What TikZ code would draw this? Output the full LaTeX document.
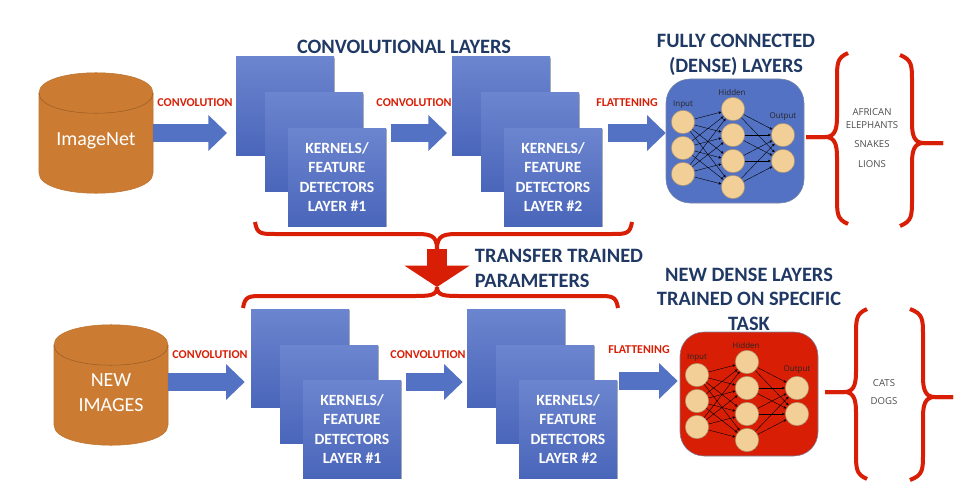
\documentclass[tikz,border=0pt]{standalone}
\usepackage{fontspec}
\setmainfont{Carlito}
\newfontfamily\smallfont{Open Sans}
\usetikzlibrary{calc, positioning}
\usetikzlibrary{arrows.meta}
\usetikzlibrary{shadows}
\definecolor{navy}{HTML}{1F3864}
\definecolor{alarm}{HTML}{D81E05}
\definecolor{denseblue}{HTML}{5472C4}
\definecolor{stacktop}{HTML}{6C85CF}
\definecolor{stackbot}{HTML}{4A66BA}
\definecolor{peach}{HTML}{F3CF98}
\definecolor{barrel}{HTML}{CC7C32}
\def\lw{13pt}
\tikzset{
    layer/.style = {
        minimum width=73.5pt, minimum height=73.5pt, inner sep=0pt, align=center,
        top color=stacktop, bottom color=stackbot, text=white,
        font=\fontsize{11.7}{14.6}\selectfont\bfseries,
        drop shadow={shadow xshift=1pt, shadow yshift=-1pt, opacity=.3, fill=black}
    },
    barreltext/.style = {
        text=white, inner sep=0pt, align=center, font=\fontsize{15}{18.75}\selectfont
    },
    neuron/.style = {
        draw=peach!70!black, fill=peach, circle, minimum width=17.5pt, inner sep=0pt
    },
    netlabel/.style = {
        text=black!85, inner sep=0pt, font=\smallfont\fontsize{6}{7}\selectfont
    },
    link/.style = {
        -{Latex[length=2pt,width=2pt]}, black, line width=.3pt
    },
    stepname/.style = {
        text=alarm, inner sep=0pt, font=\fontsize{9}{9}\selectfont\bfseries
    },
    heading/.style = {
        text=navy, inner sep=0pt, align=center,
        font=\fontsize{15.3}{18.4}\selectfont\bfseries
    },
    classname/.style = {
        text=black!70, inner sep=0pt, align=center,
        font=\smallfont\fontsize{7.2}{9.8}\selectfont
    },
    bigarrow/.style = {
        line width = \lw, draw=denseblue, >={Triangle[width=26pt,length=14pt]}, ->
    },
    bracket/.style = {
        draw=alarm, line width=3pt
    },
    pics/Barrel/.style={
        code = {
            \filldraw [fill=barrel, draw=barrel!92!black] (-57, -40) .. controls (-57, -67) and (57, -67) .. (57, -40)
                -- (57, 40) .. controls (57, 67) and (-57, 67) .. (-57, 40) -- cycle;
            \draw [barrel!75!black] (-57, -40) .. controls (-57, -13) and (57, -13) .. (57, -40);
            \node [barreltext] (-edge) at (0, 8) {#1};
            \coordinate (-east) at (57, 0);
    }},
    pics/Stack/.style={
        code = {
            \node [layer] (-back) at (49, 49) {};
            \node [layer] (-mid) at (78, 85) {};
            \node [layer] (-front) at (101, 120) {KERNELS/\\FEATURE\\DETECTORS\\LAYER \##1};
    }},
    pics/Dense/.style={
        code = {
            \node [draw=navy!60, fill=#1, rounded corners=18pt, minimum width=103.5pt, minimum height=93pt, inner sep=0pt] (-box) at (69, 62) {};
            \foreach \i/\yy in {1/43, 2/69, 3/95}
                \node [neuron] (-in\i) at (17, \yy) {};
            \foreach \i/\yy in {1/30, 2/56, 3/82, 4/108}
                \node [neuron] (-hid\i) at (67, \yy) {};
            \foreach \i/\yy in {1/56, 2/82}
                \node [neuron] (-out\i) at (117, \yy) {};
            \node [netlabel] (-lin) at (17, 26) {Input};
            \node [netlabel] (-lhid) at (66, 13) {Hidden};
            \node [netlabel] (-lout) at (117, 38) {Output};
            \foreach \i in {1,2,3}
                \foreach \j in {1,2,3,4}
                    \draw [link] (-in\i) -- (-hid\j);
            \foreach \j in {1,2,3,4}
                \foreach \k in {1,2}
                    \draw [link] (-hid\j) -- (-out\k);
    }}
}
\begin{document}
\begin{tikzpicture}[x=.75pt, y=-.75pt]
    \useasboundingbox (0, 0) rectangle (960, 503);
    \draw (96, 133) pic (db1) {Barrel={ImageNet}};
    \draw (111, 385) pic (db2) {Barrel={NEW\\IMAGES}};
    \draw (236, 57) pic (s1) {Stack={1}};
    \draw (452, 57) pic (s2) {Stack={2}};
    \draw (251, 309) pic (s3) {Stack={1}};
    \draw (467, 309) pic (s4) {Stack={2}};
    \draw (666, 79) pic (d1) {Dense={denseblue}};
    \draw (680, 332) pic (d2) {Dense={alarm}};
    \begin{scope}[bigarrow]
        \draw [shorten >=6.5pt] (db1-east |- 0, 133) -- (s1-back.west |- 0, 133);
        \draw [shorten <=3.5pt, shorten >=3.5pt] (s1-front.east |- 0, 133) -- (s2-back.west |- 0, 133);
        \draw [shorten <=4.5pt] (s2-front.east |- 0, 133) -- (d1-box.west |- 0, 133);
        \draw [shorten >=4.5pt] (db2-east |- 0, 382) -- (s3-back.west |- 0, 382);
        \draw [shorten <=3.5pt, shorten >=3pt] (s3-front.east |- 0, 382) -- (s4-back.west |- 0, 382);
        \draw [shorten <=1.5pt, shorten >=1.5pt] (s4-front.east |- 0, 381) -- (d2-box.west |- 0, 381);
    \end{scope}
    \node [stepname] (c1) at (195, 103) {CONVOLUTION};
    \node [stepname] (c2) at (414, 103) {CONVOLUTION};
    \node [stepname] (f1) at (627, 103) {FLATTENING};
    \node [stepname] (c3) at (210, 355) {CONVOLUTION};
    \node [stepname] (c4) at (428, 355) {CONVOLUTION};
    \node [stepname] (f2) at (639, 350) {FLATTENING};
    \node [heading] (h1) at (404, 47) {CONVOLUTIONAL LAYERS};
    \node [heading] (h2) at (736, 55) {FULLY CONNECTED\\(DENSE) LAYERS};
    \node [heading] (h3) at (749, 299) {NEW DENSE LAYERS\\TRAINED ON SPECIFIC\\TASK};
    \node [heading, align=left] (h4) at (559, 268.5) {TRANSFER TRAINED\\PARAMETERS};
    \node [classname] (k1) at (872, 138) {AFRICAN\\ELEPHANTS\\[5pt]SNAKES\\[5pt]LIONS};
    \node [classname] (k2) at (884, 392) {CATS\\[4pt]DOGS};
    \foreach \sx/\ex/\yt/\yb/\yc/\tx/\d in {837/848/53/224/137/806/1, 856/867/309/479/392/825/1, 912/900/55/226/143/943/-1, 923/910/309/480/397/953/-1}
        \foreach \ye/\s in {\yt/1, \yb/-1}
            \draw [bracket] (\ex, \ye) .. controls (\sx, \ye+5*\s) and (\sx, \ye+10*\s) .. (\sx, \ye+27*\s)
                -- (\sx, \yc-20*\s) .. controls (\sx, \yc-6*\s) and (\sx-3*\d, \yc) .. (\sx-12*\d, \yc) -- (\tx, \yc);
    \coordinate (t1) at (437, 249);
    \coordinate (t2) at (437, 287);
    \foreach \ex/\s/\ya/\yh/\tn in {255/1/222/234/t1, 632/-1/222/234/t1, 243/1/308/296/t2, 618/-1/308/296/t2}
        \draw [bracket] (\ex, \ya) .. controls (\ex+2*\s, \yh) and (\ex+6*\s, \yh) .. (\ex+20*\s, \yh)
            -- (437-24*\s, \yh) .. controls (437-8*\s, \yh) and (437, \yh) .. (\tn);
    \draw [line width = 15pt, alarm, -{Triangle[width=48pt,length=16pt]}] (t1) -- (t2);
\end{tikzpicture}
\end{document}
